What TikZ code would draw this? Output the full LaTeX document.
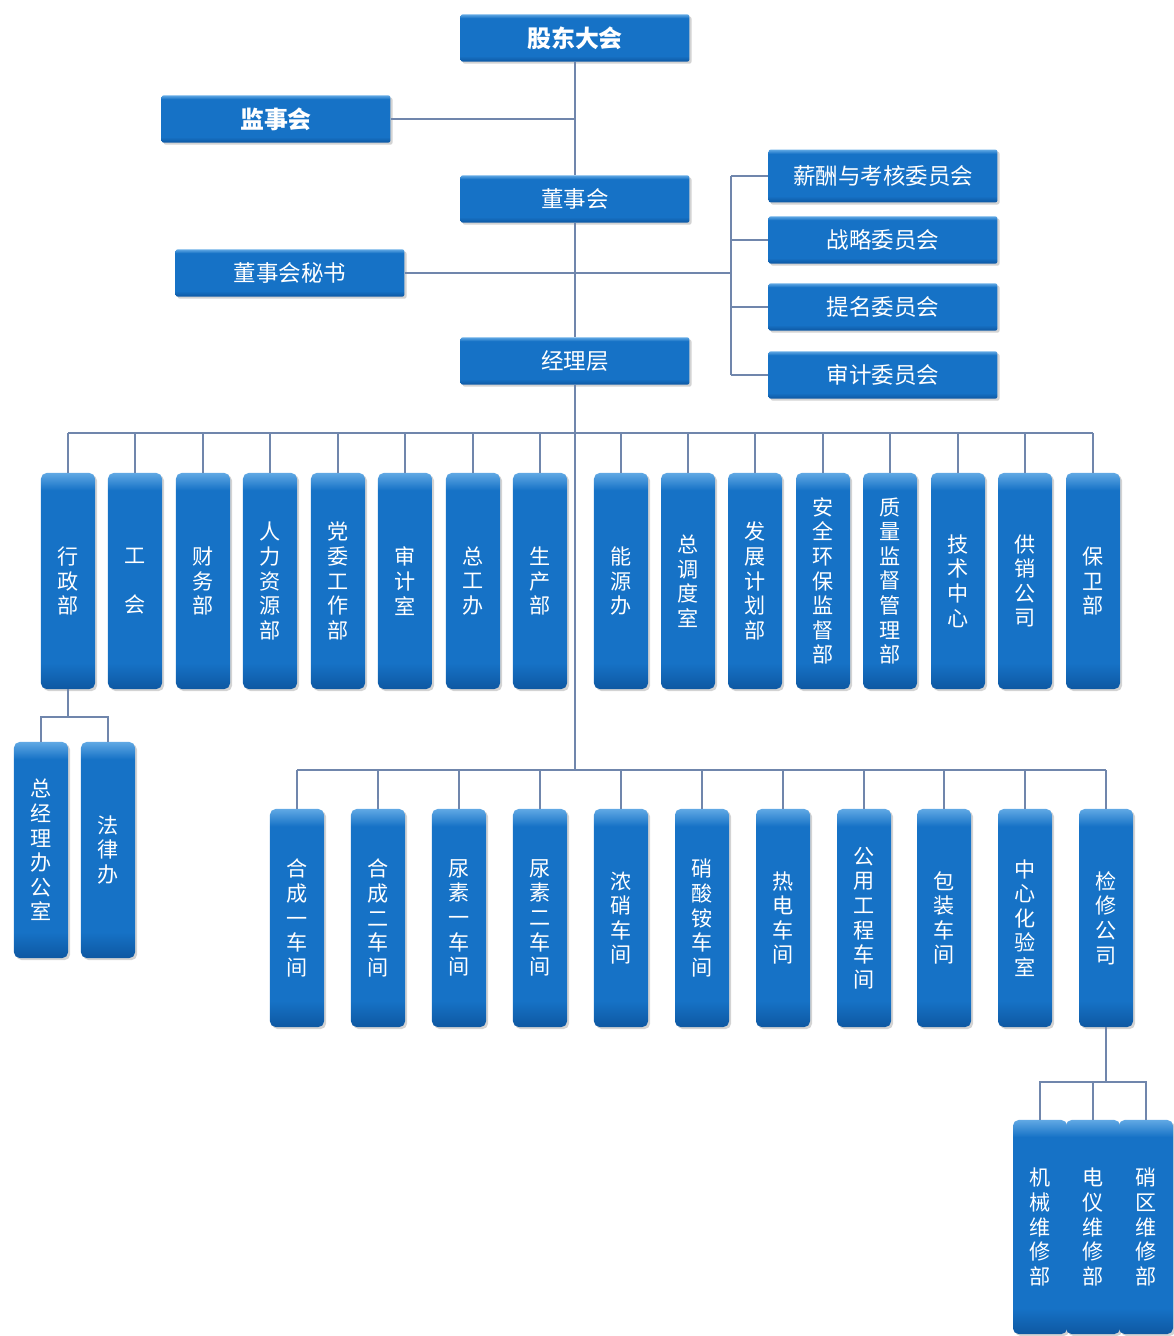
\documentclass[tikz,border=0pt]{standalone}
\usepackage{fontspec}
\setmainfont{Noto Sans CJK SC}
\usetikzlibrary{shadows}
\definecolor{boxtop}{RGB}{96,168,228}
\definecolor{boxmid}{RGB}{22,114,198}
\definecolor{boxbot}{RGB}{14,88,162}
\definecolor{linkc}{RGB}{112,134,172}
\pgfdeclareverticalshading{boxshade}{100bp}{color(0bp)=(boxbot); color(25bp)=(boxbot);
  color(31bp)=(boxmid); color(71bp)=(boxmid); color(75bp)=(boxtop); color(100bp)=(boxtop)}

\begin{document}
\begin{tikzpicture}[x=0.025cm,y=-0.025cm,
   box/.style={rounded corners=1.5pt,shading=boxshade,text=white,inner sep=0pt,
     drop shadow={opacity=0.35,shadow xshift=1.5pt,shadow yshift=-1.5pt}},
   hbox/.style={box,minimum width=5.72cm,minimum height=1.18cm,font=\fontsize{16}{16}\selectfont},
   boldbox/.style={hbox,font=\fontsize{17}{17}\selectfont\bfseries},
   vbox/.style={box,rounded corners=4pt,minimum width=1.35cm,minimum height=5.4cm,
     align=center,font=\fontsize{15}{17.5}\selectfont},
   link/.style={draw=linkc,line width=0.8pt}]
   \useasboundingbox (0,0) rectangle (1173,1336);

   % top of the chart
   \node[boldbox] (gd) at (575,38)  {股东大会};
   \node[boldbox] (js) at (276,119) {监事会};
   \node[hbox]    (ds) at (575,199) {董事会};
   \node[hbox]    (dm) at (290,273) {董事会秘书};
   \node[hbox]    (jl) at (575,361) {经理层};

   \node[hbox,minimum height=1.32cm] (xc) at (883,176) {薪酬与考核委员会};
   \node[hbox] (zl1) at (883,240) {战略委员会};
   \node[hbox] (tm) at (883,307) {提名委员会};
   \node[hbox] (sj) at (883,375) {审计委员会};

   % departments
   \node[vbox] (xz) at (68,581)   {行\\政\\部};
   \node[vbox] (gh) at (135,581)  {工\\[17.5pt]会};
   \node[vbox] (cw) at (203,581)  {财\\务\\部};
   \node[vbox] (rl) at (270,581)  {人\\力\\资\\源\\部};
   \node[vbox] (dw) at (338,581)  {党\\委\\工\\作\\部};
   \node[vbox] (sjs) at (405,581) {审\\计\\室};
   \node[vbox] (zg) at (473,581)  {总\\工\\办};
   \node[vbox] (sc) at (540,581)  {生\\产\\部};
   \node[vbox] (ny) at (621,581)  {能\\源\\办};
   \node[vbox] (zd) at (688,581)  {总\\调\\度\\室};
   \node[vbox] (fz) at (755,581)  {发\\展\\计\\划\\部};
   \node[vbox] (aq) at (823,581)  {安\\全\\环\\保\\监\\督\\部};
   \node[vbox] (zj2) at (890,581) {质\\量\\监\\督\\管\\理\\部};
   \node[vbox] (jszx) at (958,581) {技\\术\\中\\心};
   \node[vbox] (gx) at (1025,581) {供\\销\\公\\司};
   \node[vbox] (bw) at (1093,581) {保\\卫\\部};

   \node[vbox] (zjb) at (41,850)  {总\\经\\理\\办\\公\\室};
   \node[vbox] (fl) at (108,850)  {法\\律\\办};

   % workshops
   \node[vbox,minimum height=5.45cm] (hc1) at (297,918)  {合\\成\\一\\车\\间};
   \node[vbox,minimum height=5.45cm] (hc2) at (378,918)  {合\\成\\二\\车\\间};
   \node[vbox,minimum height=5.45cm] (ns1) at (459,918)  {尿\\素\\一\\车\\间};
   \node[vbox,minimum height=5.45cm] (ns2) at (540,918)  {尿\\素\\二\\车\\间};
   \node[vbox,minimum height=5.45cm] (nx) at (621,918)   {浓\\硝\\车\\间};
   \node[vbox,minimum height=5.45cm] (xsa) at (702,918)  {硝\\酸\\铵\\车\\间};
   \node[vbox,minimum height=5.45cm] (rd) at (783,918)   {热\\电\\车\\间};
   \node[vbox,minimum height=5.45cm] (gy) at (864,918)   {公\\用\\工\\程\\车\\间};
   \node[vbox,minimum height=5.45cm] (bz) at (944,918)   {包\\装\\车\\间};
   \node[vbox,minimum height=5.45cm] (zx) at (1025,918)  {中\\心\\化\\验\\室};
   \node[vbox,minimum height=5.45cm] (jx) at (1106,918)  {检\\修\\公\\司};

   \node[vbox,minimum height=5.35cm] (jxa) at (1040,1227) {机\\械\\维\\修\\部};
   \node[vbox,minimum height=5.35cm] (jxb) at (1093,1227) {电\\仪\\维\\修\\部};
   \node[vbox,minimum height=5.35cm] (jxc) at (1146,1227) {硝\\区\\维\\修\\部};

   % connectors
   \coordinate (cb) at (731,0);
   \coordinate (bus1) at (0,433);
   \coordinate (bus2) at (0,770);
   \coordinate (xzbus) at (0,717);
   \coordinate (jxbus) at (0,1082);

   \draw[link] (gd.south) -- (ds.north);
   \draw[link] (js.east) -- (js.east -| gd.south);
   \draw[link] (ds.south) -- (jl.north);
   \draw[link] (dm.east) -- (dm.east -| cb);
   \draw[link] (xc.west -| cb) -- (sj.west -| cb);
   \foreach \n in {xc,zl1,tm,sj}
     \draw[link] (\n.west) -- (\n.west -| cb);

   \draw[link] (jl.south) -- (jl.south |- bus2);
   \draw[link] (xz.north |- bus1) -- (bw.north |- bus1);
   \foreach \n in {xz,gh,cw,rl,dw,sjs,zg,sc,ny,zd,fz,aq,zj2,jszx,gx,bw}
     \draw[link] (\n.north) -- (\n.north |- bus1);

   \draw[link] (xz.south) -- (xz.south |- xzbus);
   \draw[link] (zjb.north) |- (fl.north |- xzbus) -- (fl.north);

   \draw[link] (hc1.north |- bus2) -- (jx.north |- bus2);
   \foreach \n in {hc1,hc2,ns1,ns2,nx,xsa,rd,gy,bz,zx,jx}
     \draw[link] (\n.north) -- (\n.north |- bus2);

   \draw[link] (jx.south) -- (jx.south |- jxbus);
   \draw[link] (jxa.north) |- (jxc.north |- jxbus) -- (jxc.north);
   \draw[link] (jxb.north) -- (jxb.north |- jxbus);
\end{tikzpicture}
\end{document}
